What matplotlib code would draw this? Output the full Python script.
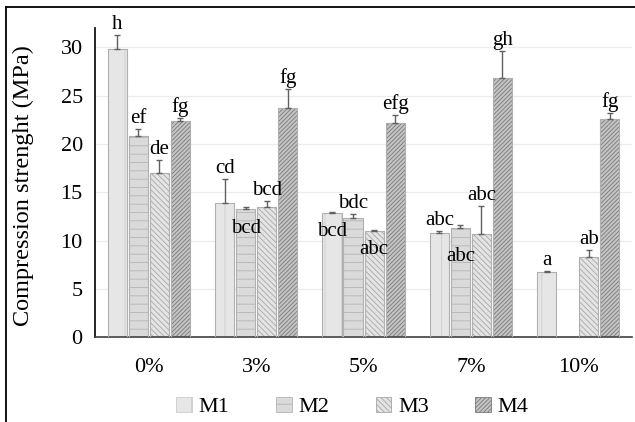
import numpy as np
import matplotlib.pyplot as plt
from matplotlib.lines import Line2D

plt.rcParams['font.family'] = ['Liberation Serif', 'DejaVu Serif']
plt.rcParams['hatch.linewidth'] = 0.6

categories = ['0%', '3%', '5%', '7%', '10%']
series = ['M1', 'M2', 'M3', 'M4']

m1 = [29.8, 13.9, 12.8, 10.8, 6.75]
m2 = [20.8, 13.3, 12.3, 11.3, 0.0]
m3 = [17.0, 13.5, 11.0, 10.7, 8.3]
m4 = [22.4, 23.7, 22.2, 26.8, 22.6]

m1_err = [1.5, 2.5, 0.1, 0.15, 0.1]
m2_err = [0.7, 0.15, 0.4, 0.3, 0.0]
m3_err = [1.3, 0.6, 0.1, 2.9, 0.7]
m4_err = [0.3, 2.0, 0.8, 2.8, 0.6]

m1_lbl = ['h', 'cd', 'bcd', 'abc', 'a']
m2_lbl = ['ef', 'bcd', 'bdc', 'abc', '']
m3_lbl = ['de', 'bcd', 'abc', 'abc', 'ab']
m4_lbl = ['fg', 'fg', 'efg', 'gh', 'fg']

values = [m1, m2, m3, m4]
errors = [m1_err, m2_err, m3_err, m4_err]
labels = [m1_lbl, m2_lbl, m3_lbl, m4_lbl]

# labels that sit inside/below the bar top in the original (series, category) -> y centre
moved = {(1, 1): 11.2, (0, 2): 10.9, (2, 2): 9.1, (1, 3): 8.3}

faces = ['#e6e6e6', '#dadada', '#e4e4e4', '#c4c4c4']
hatches = ['|', '--', '\\\\\\\\\\\\', '////////']
hatch_cols = ['#cccccc', '#b4b4b4', '#a6a6a6', '#7a7a7a']

fig = plt.figure(figsize=(6.35, 4.22), dpi=100)
ax = fig.add_axes([0.150, 0.201, 0.845, 0.733])

x = np.arange(len(categories))
step = 0.196
width = 0.178

for i in range(4):
    xs = x + (i - 1.5) * step
    vals = np.array(values[i])
    errs = np.array(errors[i])
    show = vals > 0
    ax.bar(xs[show], vals[show], width, color=faces[i], edgecolor=hatch_cols[i],
           hatch=hatches[i], linewidth=0.6, zorder=2, label=series[i])
    ax.bar(xs[show], vals[show], width, color='none', edgecolor='#b0b0b0',
           linewidth=0.8, zorder=3)
    ax.errorbar(xs[show], vals[show], yerr=[np.zeros(show.sum()), errs[show]],
                fmt='none', ecolor='#606060', elinewidth=1, capsize=2.5,
                capthick=1, zorder=4)
    for j in range(len(categories)):
        if not show[j]:
            continue
        if (i, j) in moved:
            ax.text(xs[j], moved[(i, j)], labels[i][j], ha='center', va='center',
                    fontsize=15, zorder=5)
        else:
            ax.text(xs[j], vals[j] + errs[j] + 0.1, labels[i][j], ha='center',
                    va='bottom', fontsize=15, zorder=5)

ax.set_xlim(-0.5, 4.5)
ax.set_ylim(0, 32)
ax.set_yticks(range(0, 31, 5))
ax.set_xticks(x)
ax.set_xticklabels(categories)
ax.tick_params(axis='both', length=0, labelsize=16)
ax.tick_params(axis='x', pad=15)
ax.tick_params(axis='y', pad=9)
ax.yaxis.grid(True, color='#ececec', linewidth=0.9, zorder=0)
ax.set_axisbelow(True)
for s in ['top', 'right']:
    ax.spines[s].set_visible(False)
ax.spines['left'].set_color('black')
ax.spines['left'].set_linewidth(1.2)
ax.spines['bottom'].set_color('#404040')
ax.spines['bottom'].set_linewidth(1.2)
ax.set_ylabel('Compression strenght (MPa)', fontsize=17.5)
ax.yaxis.set_label_coords(-0.115, 0.49)

fig.legend(loc='center', bbox_to_anchor=(0.555, 0.036), ncol=4, frameon=False,
           fontsize=16, handlelength=0.7, handleheight=0.7, handletextpad=0.3,
           columnspacing=2.1)

# outer frame (top and left edges visible in the picture)
fig.add_artist(Line2D([6 / 635, 1.0], [1 - 7 / 422, 1 - 7 / 422],
                      color='black', linewidth=1.3, transform=fig.transFigure))
fig.add_artist(Line2D([6 / 635, 6 / 635], [0.0, 1 - 7 / 422],
                      color='black', linewidth=1.3, transform=fig.transFigure))

fig.savefig('out.png', dpi=100)
